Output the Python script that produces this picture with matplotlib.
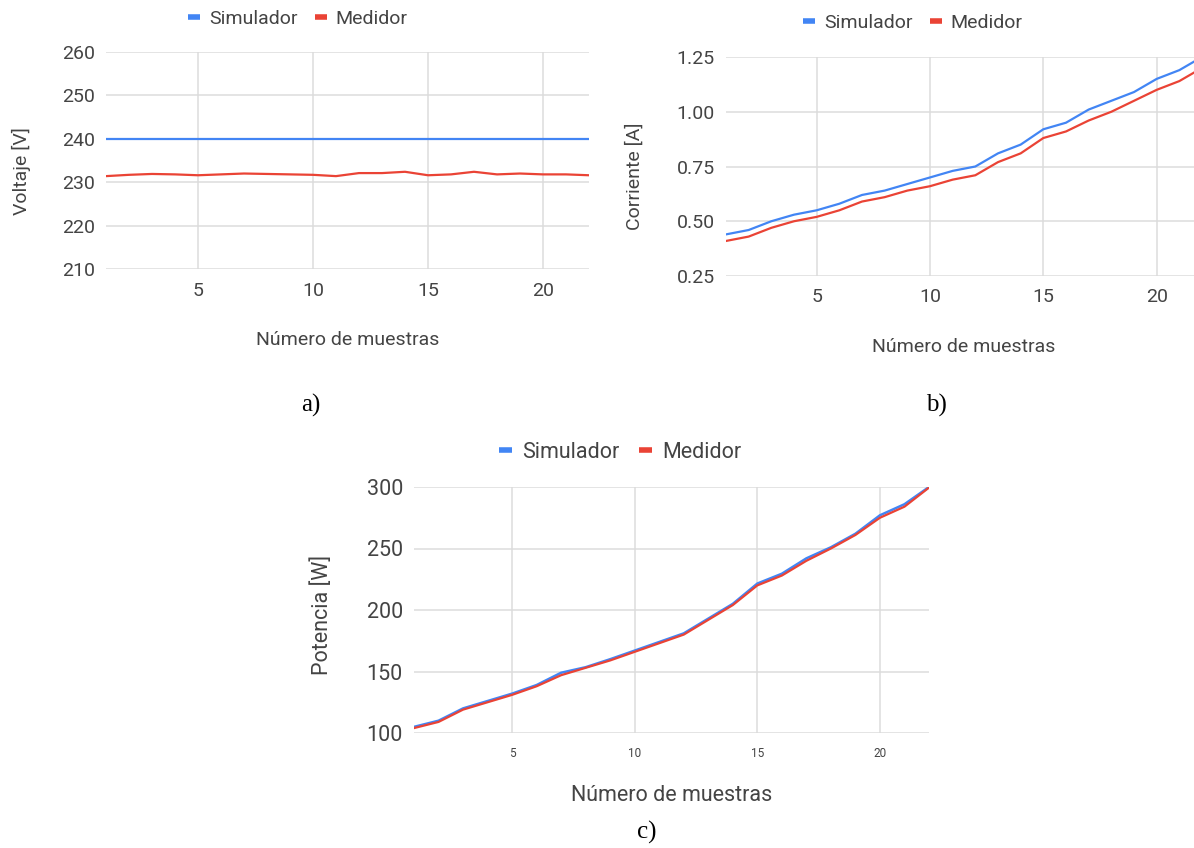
import matplotlib
matplotlib.use("Agg")
import matplotlib.pyplot as plt
from matplotlib.lines import Line2D

plt.rcParams['font.family'] = ['Roboto', 'DejaVu Sans']

# ---------------- data ----------------
muestras = list(range(1, 23))

voltaje_sim = [240] * 22
voltaje_med = [231.4, 231.7, 231.9, 231.8, 231.6, 231.8, 232.0, 231.9, 231.8, 231.7, 231.4,
               232.1, 232.1, 232.4, 231.6, 231.8, 232.4, 231.8, 232.0, 231.8, 231.8, 231.6]

corriente_sim = [0.44, 0.46, 0.50, 0.53, 0.55, 0.58, 0.62, 0.64, 0.67, 0.70, 0.73,
                 0.75, 0.81, 0.85, 0.92, 0.95, 1.01, 1.05, 1.09, 1.15, 1.19, 1.25]
corriente_med = [0.41, 0.43, 0.47, 0.50, 0.52, 0.55, 0.59, 0.61, 0.64, 0.66, 0.69,
                 0.71, 0.77, 0.81, 0.88, 0.91, 0.96, 1.00, 1.05, 1.10, 1.14, 1.20]

potencia_sim = [105, 110, 120, 126, 132, 139, 149, 153.5, 160, 167, 174,
                181, 193, 205, 221.5, 229.5, 242, 251, 262, 277, 286, 300]
potencia_med = [104, 109, 119, 125, 131, 138, 147, 153, 159, 166, 173,
                180, 192, 204, 220, 228, 240, 250, 261, 275, 284, 299.5]

series_names = ["Simulador", "Medidor"]
x_ticks = [5, 10, 15, 20]
y_ticks_a = [210, 220, 230, 240, 250, 260]
y_ticks_b = [0.25, 0.50, 0.75, 1.00, 1.25]
y_ticks_c = [100, 150, 200, 250, 300]
y_labels = ["Voltaje [V]", "Corriente [A]", "Potencia [W]"]
x_label = "Número de muestras"
captions = ["a)", "b)", "c)"]

# ---------------- style ----------------
BLUE = "#4285F4"
RED = "#EA4335"
TXT = "#444444"
GRID = "#dcdcdc"

W, H = 1194, 848
fig = plt.figure(figsize=(W / 100, H / 100), dpi=100)


def px_axes(l, r, t, b):
    return fig.add_axes([l / W, 1 - b / H, (r - l) / W, (b - t) / H])


def style(ax, yticks, ylabel, tick_fs, xtick_fs, label_fs, ylab_xy, xlab_xy, yfmt=None):
    ax.set_xlim(1, 22)
    ax.set_ylim(yticks[0], yticks[-1])
    ax.set_xticks(x_ticks)
    ax.set_yticks(yticks)
    if yfmt:
        ax.set_yticklabels([yfmt.format(v) for v in yticks])
    for s in ax.spines.values():
        s.set_visible(False)
    ax.grid(True, color=GRID, lw=1.1)
    ax.set_axisbelow(True)
    ax.tick_params(length=0, colors=TXT)
    ax.tick_params(axis='y', labelsize=tick_fs, pad=8)
    ax.tick_params(axis='x', labelsize=xtick_fs, pad=9)
    ax.set_ylabel(ylabel, fontsize=label_fs, color=TXT)
    ax.yaxis.set_label_coords(*ylab_xy)
    ax.set_xlabel(x_label, fontsize=label_fs, color=TXT)
    ax.xaxis.set_label_coords(*xlab_xy)


def legend(cx, cy, fs):
    handles = [Line2D([], [], color=BLUE, lw=4, solid_capstyle='butt'),
               Line2D([], [], color=RED, lw=4, solid_capstyle='butt')]
    leg = fig.legend(handles, series_names, loc='center', bbox_to_anchor=(cx / W, 1 - cy / H),
                     ncol=2, frameon=False, fontsize=fs, handlelength=0.62,
                     handletextpad=0.45, columnspacing=0.9, borderpad=0, borderaxespad=0)
    for t in leg.get_texts():
        t.set_color(TXT)


# ---- panel a ----
ax_a = px_axes(106, 589, 52, 269)
ax_a.plot(muestras, voltaje_sim, color=BLUE, lw=1.6)
ax_a.plot(muestras, voltaje_med, color=RED, lw=1.6)
style(ax_a, y_ticks_a, y_labels[0], 14, 14, 14, (-0.155, 0.45), (0.5, -0.286))
legend(298, 19, 14)

# ---- panel b ----
ax_b = px_axes(726, 1202, 57, 276)
ax_b.plot(muestras, corriente_sim, color=BLUE, lw=1.6)
ax_b.plot(muestras, corriente_med, color=RED, lw=1.6)
style(ax_b, y_ticks_b, y_labels[1], 14, 14, 14, (-0.172, 0.457), (0.5, -0.283), yfmt="{:.2f}")
legend(913, 23, 14)

# ---- panel c ----
ax_c = px_axes(414, 929, 487, 733)
ax_c.plot(muestras, potencia_sim, color=BLUE, lw=1.8)
ax_c.plot(muestras, potencia_med, color=RED, lw=1.6)
style(ax_c, y_ticks_c, y_labels[2], 15.5, 8.5, 15.5, (-0.157, 0.48), (0.5, -0.211))
ax_c.tick_params(axis='x', pad=10)
legend(620, 452, 15.5)

# ---- captions ----
for txt, (cx, cy) in zip(captions, [(311, 405), (936, 405), (647, 832)]):
    fig.text(cx / W, 1 - cy / H, txt, family=['Liberation Serif', 'DejaVu Serif'],
             fontsize=18, ha='center', va='center', color='black')

fig.savefig("out.png", dpi=100, facecolor='white')
